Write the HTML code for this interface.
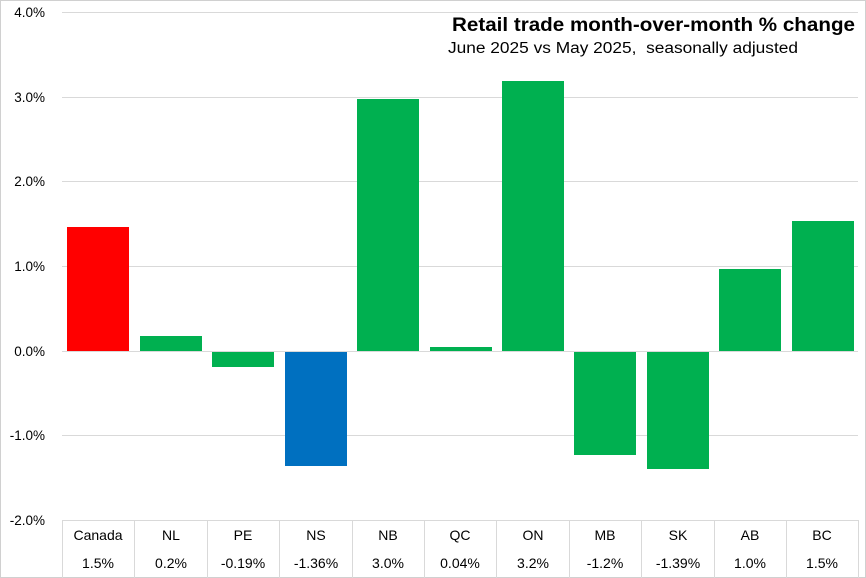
<!DOCTYPE html>
<html><head><meta charset="utf-8"><style>
body{margin:0;background:#fff}
svg{display:block}
text{font-family:"Liberation Sans",Arial,sans-serif;fill:#000}
</style></head><body>
<svg width="866" height="578" xmlns="http://www.w3.org/2000/svg">
<rect x="0.5" y="0.5" width="865" height="577" fill="#fff" stroke="#d0d0d0"/>
<g stroke="#d9d9d9" stroke-width="1">
<line x1="62" y1="12.5" x2="858" y2="12.5"/>
<line x1="62" y1="97.5" x2="858" y2="97.5"/>
<line x1="62" y1="181.5" x2="858" y2="181.5"/>
<line x1="62" y1="266.5" x2="858" y2="266.5"/>
<line x1="62" y1="435.5" x2="858" y2="435.5"/>
<line x1="62" y1="520.5" x2="858" y2="520.5"/>
<line x1="62.5" y1="520" x2="62.5" y2="578"/>
<line x1="134.5" y1="520" x2="134.5" y2="578"/>
<line x1="207.5" y1="520" x2="207.5" y2="578"/>
<line x1="279.5" y1="520" x2="279.5" y2="578"/>
<line x1="352.5" y1="520" x2="352.5" y2="578"/>
<line x1="424.5" y1="520" x2="424.5" y2="578"/>
<line x1="496.5" y1="520" x2="496.5" y2="578"/>
<line x1="569.5" y1="520" x2="569.5" y2="578"/>
<line x1="641.5" y1="520" x2="641.5" y2="578"/>
<line x1="714.5" y1="520" x2="714.5" y2="578"/>
<line x1="786.5" y1="520" x2="786.5" y2="578"/>
<line x1="858.5" y1="520" x2="858.5" y2="578"/>
</g>
<g font-size="13.5" text-anchor="end">
<text x="45" y="17">4.0%</text>
<text x="45" y="102">3.0%</text>
<text x="45" y="186">2.0%</text>
<text x="45" y="271">1.0%</text>
<text x="45" y="356">0.0%</text>
<text x="45" y="440">-1.0%</text>
<text x="45" y="525">-2.0%</text>
</g>
<rect x="67" y="227" width="62" height="124" fill="#ff0000"/>
<rect x="140" y="336" width="62" height="15" fill="#00b050"/>
<rect x="212" y="351" width="62" height="16" fill="#00b050"/>
<rect x="285" y="351" width="62" height="115" fill="#0070c0"/>
<rect x="357" y="99" width="62" height="252" fill="#00b050"/>
<rect x="430" y="347" width="62" height="4" fill="#00b050"/>
<rect x="502" y="81" width="62" height="270" fill="#00b050"/>
<rect x="574" y="351" width="62" height="104" fill="#00b050"/>
<rect x="647" y="351" width="62" height="118" fill="#00b050"/>
<rect x="719" y="269" width="62" height="82" fill="#00b050"/>
<rect x="792" y="221" width="62" height="130" fill="#00b050"/>
<line x1="62" y1="351.5" x2="858" y2="351.5" stroke="#d9d9d9"/>
<g font-size="14" text-anchor="middle">
<text x="98" y="540">Canada</text><text x="98" y="568">1.5%</text>
<text x="171" y="540">NL</text><text x="171" y="568">0.2%</text>
<text x="243" y="540">PE</text><text x="243" y="568">-0.19%</text>
<text x="316" y="540">NS</text><text x="316" y="568">-1.36%</text>
<text x="388" y="540">NB</text><text x="388" y="568">3.0%</text>
<text x="460" y="540">QC</text><text x="460" y="568">0.04%</text>
<text x="533" y="540">ON</text><text x="533" y="568">3.2%</text>
<text x="605" y="540">MB</text><text x="605" y="568">-1.2%</text>
<text x="678" y="540">SK</text><text x="678" y="568">-1.39%</text>
<text x="750" y="540">AB</text><text x="750" y="568">1.0%</text>
<text x="822" y="540">BC</text><text x="822" y="568">1.5%</text>
</g>
<text x="452" y="31" font-size="19" font-weight="bold" textLength="403" lengthAdjust="spacingAndGlyphs">Retail trade month-over-month % change</text>
<text x="448" y="53" font-size="15.5" textLength="350" lengthAdjust="spacingAndGlyphs" xml:space="preserve">June 2025 vs May 2025,  seasonally adjusted</text>
</svg>
</body></html>
